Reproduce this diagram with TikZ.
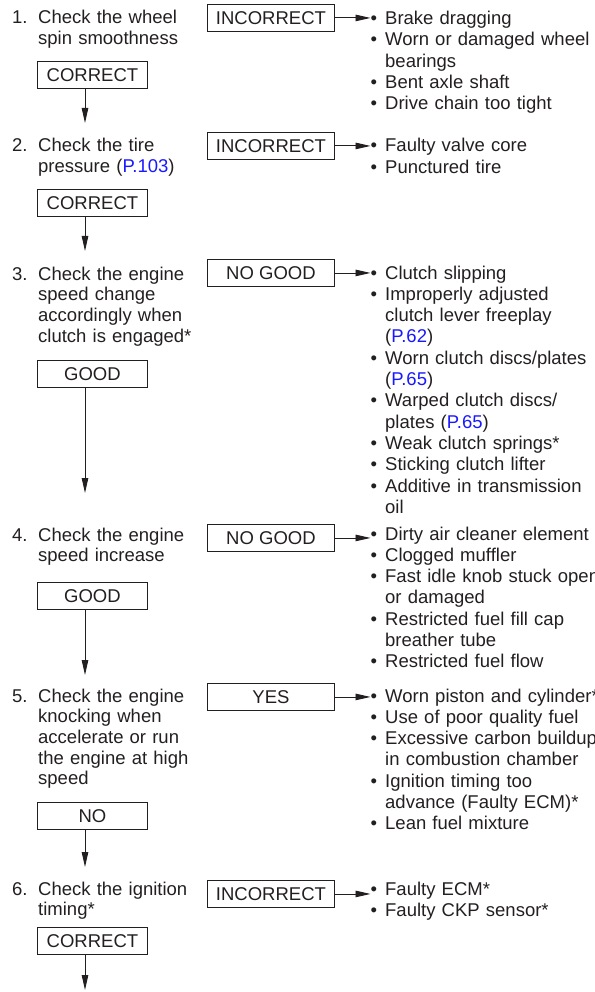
\documentclass[tikz,border=0pt]{standalone}
\usepackage{fontspec}
\setmainfont{Liberation Sans}
\usetikzlibrary{arrows.meta}
\definecolor{ink}{RGB}{35,31,32}
\definecolor{linkblue}{RGB}{25,25,255}
\newcommand{\bitem}{\makebox[14.5pt][l]{•}}
\newcommand{\bcont}{\hspace*{14.5pt}}
\newcommand{\lnk}[1]{\textcolor{linkblue}{#1}}
\begin{document}
\begin{tikzpicture}[x=1pt,y=-1pt,
  txt/.style={anchor=base west, inner sep=0pt, align=left, text=ink, text width=160pt,
    font=\fontsize{18.5}{20.7}\selectfont},
  lst/.style={txt, text width=240pt, font=\fontsize{18.5}{21.3}\selectfont},
  lbox/.style={draw=ink, line width=0.9pt, minimum width=110pt, minimum height=27pt,
    inner sep=0pt, anchor=north west, text=ink, font=\fontsize{18.5}{20}\selectfont},
  rbox/.style={lbox, minimum width=127pt},
  flow/.style={draw=ink, line width=0.9pt, -{Triangle[length=15pt,width=6.5pt]}}]
\useasboundingbox (0,0) rectangle (594,992);

% step texts
\node[txt, text width=20pt] (n1) at (12,24) {1.};
\node[txt] (t1) at (38,24) {Check the wheel\\spin smoothness};
\node[txt, text width=20pt] (n2) at (12,152) {2.};
\node[txt] (t2) at (38,152) {Check the tire\\pressure (\lnk{P.103})};
\node[txt, text width=20pt] (n3) at (12,280) {3.};
\node[txt] (t3) at (38,280) {Check the engine\\speed change\\accordingly when\\clutch is engaged*};
\node[txt, text width=20pt] (n4) at (12,541) {4.};
\node[txt] (t4) at (38,541) {Check the engine\\speed increase};
\node[txt, text width=20pt] (n5) at (12,702) {5.};
\node[txt] (t5) at (38,702) {Check the engine\\knocking when\\accelerate or run\\the engine at high\\speed};
\node[txt, text width=20pt] (n6) at (12,895) {6.};
\node[txt] (t6) at (38,895) {Check the ignition\\timing*};

% left result boxes
\node[lbox] (c1) at (37,61) {CORRECT};
\node[lbox] (c2) at (37,189.5) {CORRECT};
\node[lbox] (g3) at (37,360) {GOOD};
\node[lbox] (g4) at (37,582) {GOOD};
\node[lbox] (o5) at (37,802) {NO};
\node[lbox] (c6) at (37,927) {CORRECT};

% right result boxes
\node[rbox] (i1) at (207,4) {INCORRECT};
\node[rbox] (i2) at (207,132) {INCORRECT};
\node[rbox] (b3) at (207,259) {NO GOOD};
\node[rbox] (b4) at (207,524) {NO GOOD};
\node[rbox] (y5) at (207,683) {YES};
\node[rbox] (i6) at (207,880) {INCORRECT};

% cause lists
\node[lst] (L1) at (370.5,24.5) {\bitem Brake dragging\\\bitem Worn or damaged wheel\\\bcont bearings\\\bitem Bent axle shaft\\\bitem Drive chain too tight};
\node[lst] (L2) at (370.5,152) {\bitem Faulty valve core\\\bitem Punctured tire};
\node[lst] (L3) at (370.5,279) {\bitem Clutch slipping\\\bitem Improperly adjusted\\\bcont clutch lever freeplay\\\bcont (\lnk{P.62})\\\bitem Worn clutch discs/plates\\\bcont (\lnk{P.65})\\\bitem Warped clutch discs/\\\bcont plates (\lnk{P.65})\\\bitem Weak clutch springs*\\\bitem Sticking clutch lifter\\\bitem Additive in transmission\\\bcont oil};
\node[lst] (L4) at (370.5,540) {\bitem Dirty air cleaner element\\\bitem Clogged muffler\\\bitem Fast idle knob stuck open\\\bcont or damaged\\\bitem Restricted fuel fill cap\\\bcont breather tube\\\bitem Restricted fuel flow};
\node[lst] (L5) at (370.5,702) {\bitem Worn piston and cylinder*\\\bitem Use of poor quality fuel\\\bitem Excessive carbon buildup\\\bcont in combustion chamber\\\bitem Ignition timing too\\\bcont advance (Faulty ECM)*\\\bitem Lean fuel mixture};
\node[lst] (L6) at (370.5,895) {\bitem Faulty ECM*\\\bitem Faulty CKP sensor*};

% horizontal connectors
\draw[flow] (i1.east) -- (i1.east -| L1.west);
\draw[flow] (i2.east) -- (i2.east -| L2.west);
\draw[flow] (b3.east) -- (b3.east -| L3.west);
\draw[flow] (b4.east) -- (b4.east -| L4.west);
\draw[flow] (y5.east) -- (y5.east -| L5.west);
\draw[flow] (i6.east) -- (i6.east -| L6.west);

% vertical connectors
\coordinate (a1) at (85,123);
\coordinate (a2) at (85,251);
\coordinate (a3) at (85,493);
\coordinate (a4) at (85,675);
\coordinate (a5) at (85,867);
\coordinate (a6) at (85,990);
\draw[flow] (c1.south -| a1) -- (a1);
\draw[flow] (c2.south -| a2) -- (a2);
\draw[flow] (g3.south -| a3) -- (a3);
\draw[flow] (g4.south -| a4) -- (a4);
\draw[flow] (o5.south -| a5) -- (a5);
\draw[flow] (c6.south -| a6) -- (a6);
\end{tikzpicture}
\end{document}
